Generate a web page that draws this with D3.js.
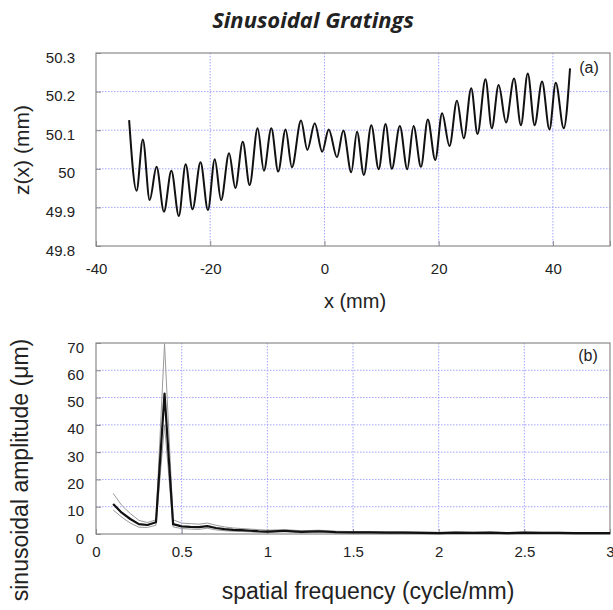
<!DOCTYPE html>
<html><head><meta charset="utf-8">
<script src="https://cdn.jsdelivr.net/npm/d3@7"></script>
<style>
html,body{margin:0;padding:0;background:#fff;}
svg{display:block;}
text{font-family:Arial,"Liberation Sans",sans-serif;fill:#222;}
</style></head>
<body>
<script>
// ---- Panel (a): surface profile, extrema ----
const profileX = [-34.2,-32.9,-31.8,-30.6,-29.4,-28.1,-26.8,-25.5,-24.3,-23.1,-21.7,-20.4,-19.2,-18.1,-16.7,-15.6,-14.3,-13.1,-11.7,-10.6,-9.3,-8.1,-6.8,-5.7,-4.1,-3.0,-1.7,-0.4,0.75,2.2,3.3,4.7,5.7,6.9,8.2,9.5,10.7,11.8,13.2,14.5,15.6,16.9,18.1,19.4,20.6,21.9,23.2,24.4,25.7,26.8,28.2,29.3,30.5,31.8,33.2,34.4,35.6,36.8,38.1,39.4,40.5,41.9,43.0];
const profileZ = [50.126,49.943,50.076,49.919,50.005,49.889,49.995,49.878,50.012,49.895,50.017,49.893,50.025,49.919,50.04,49.95,50.07,49.958,50.105,49.995,50.105,49.993,50.102,50.004,50.125,50.049,50.118,50.044,50.102,50.03,50.099,49.991,50.096,49.984,50.113,49.999,50.116,50.0,50.111,49.999,50.111,50.005,50.128,50.023,50.144,50.059,50.176,50.079,50.209,50.09,50.232,50.105,50.217,50.12,50.234,50.113,50.247,50.113,50.226,50.102,50.223,50.105,50.26];
const xTicksA = [-40,-20,0,20,40];
const zTicksA = [49.8,49.9,50,50.1,50.2,50.3];

// ---- Panel (b): amplitude spectrum ----
const freq = [0.1,0.15,0.2,0.25,0.3,0.35,0.4,0.45,0.5,0.55,0.6,0.65,0.7,0.75,0.8,0.85,0.9,0.95,1.0,1.1,1.2,1.3,1.4,1.5,1.6,1.7,1.8,1.9,2.0,2.1,2.2,2.3,2.4,2.5,2.6,2.7,2.8,2.9,3.0];
const ampMean  = [11.0,7.8,5.5,3.6,3.3,4.3,51.5,3.6,2.8,2.6,2.5,2.9,2.2,1.8,1.5,1.4,1.2,1.0,0.9,1.2,0.8,1.0,0.7,0.6,0.6,0.5,0.5,0.4,0.3,0.5,0.4,0.5,0.3,0.5,0.4,0.4,0.3,0.3,0.3];
const ampUpper = [14.9,10.5,7.5,5.0,4.2,5.2,69.8,5.2,4.0,3.8,3.6,4.0,3.2,2.6,2.2,2.0,1.8,1.6,1.4,1.6,1.2,1.4,1.0,0.9,0.9,0.8,0.8,0.7,0.6,0.7,0.6,0.7,0.5,0.7,0.6,0.6,0.5,0.5,0.5];
const ampLower = [8.8,6.2,4.0,2.5,2.4,3.2,40.0,2.6,2.0,1.8,1.7,2.1,1.5,1.2,1.0,0.9,0.8,0.6,0.5,0.8,0.4,0.6,0.4,0.3,0.3,0.2,0.2,0.2,0.1,0.2,0.2,0.2,0.1,0.2,0.2,0.2,0.1,0.1,0.1];
const fTicks = [0,0.5,1,1.5,2,2.5,3];
const aTicks = [0,10,20,30,40,50,60,70];
const fTickLabels = ["0","0.5","1","1.5","2","2.5","3"];

const W = 613, H = 610;
const svg = d3.select("body").append("svg").attr("width", W).attr("height", H);

svg.append("text").attr("x", 313).attr("y", 28).attr("text-anchor","middle")
  .style("font-family","'Open Sans',sans-serif").style("font-weight","bold").style("font-style","italic")
  .style("font-size","22px").text("Sinusoidal Gratings");

const gridColor = "#9a9aff", frameColor = "#8a8a8a";

function panel(opt){
  const {x, y, xTicks, yTicks, xFmt, yFmt} = opt;
  const g = svg.append("g");
  const [x0,x1] = x.range(), [y0,y1] = y.range(); // y0 bottom, y1 top
  g.selectAll(".gx").data(xTicks.slice(1, -1).filter(t=>x(t)<x1-1)).join("line")
    .attr("x1",d=>x(d)).attr("x2",d=>x(d)).attr("y1",y1).attr("y2",y0)
    .attr("stroke",gridColor).attr("stroke-width",0.9).attr("stroke-dasharray","1.5,1.5");
  g.selectAll(".gy").data(yTicks.slice(1, -1)).join("line")
    .attr("x1",x0).attr("x2",x1).attr("y1",d=>y(d)).attr("y2",d=>y(d))
    .attr("stroke",gridColor).attr("stroke-width",0.9).attr("stroke-dasharray","1.5,1.5");
  const ax = d3.axisBottom(x).tickValues(xTicks).tickSize(-5).tickFormat(xFmt).tickPadding(opt.xPad);
  const gx = g.append("g").attr("transform",`translate(0,${y0})`).call(ax);
  const ay = d3.axisLeft(y).tickValues(yTicks).tickSize(-5).tickFormat(yFmt).tickPadding(opt.yPad);
  const gy = g.append("g").attr("transform",`translate(${x0},0)`).call(ay);
  [gx,gy].forEach(a=>{
    a.select(".domain").remove();
    a.selectAll(".tick line").attr("stroke",frameColor);
    a.selectAll(".tick text").style("font-family","Arial,'Liberation Sans',sans-serif")
      .style("font-size",opt.tickFont).attr("fill","#222");
  });
  gy.selectAll(".tick text").attr("dy","0.6em");
  g.append("rect").attr("x",x0).attr("y",y1).attr("width",x1-x0).attr("height",y0-y1)
    .attr("fill","none").attr("stroke",frameColor).attr("stroke-width",1.2);
  return g;
}

// Panel (a)
const xA = d3.scaleLinear().domain([-40,50]).range([96,610]);
const yA = d3.scaleLinear().domain([49.8,50.3]).range([246,53]);
const gA = panel({x:xA, y:yA, xTicks:[...xTicksA,50], yTicks:zTicksA,
  xFmt:d=> d===50 ? "" : d, yFmt:d=>d3.format("")(d), tickFont:"15px", xPad:17, yPad:21});
const lineA = d3.line().x((d,i)=>xA(profileX[i])).y((d,i)=>yA(profileZ[i])).curve(d3.curveMonotoneX);
gA.append("path").attr("d", lineA(profileX)).attr("fill","none")
  .attr("stroke","#111").attr("stroke-width",2).attr("stroke-linejoin","round");
gA.append("text").attr("x",589).attr("y",73).attr("text-anchor","middle").style("font-size","16px").text("(a)");
svg.append("text").attr("x",355).attr("y",308).attr("text-anchor","middle").style("font-size","20px").text("x (mm)");
svg.append("text").attr("transform","translate(29,150) rotate(-90)").attr("text-anchor","middle").style("font-size","21px").text("z(x) (mm)");

// Panel (b)
const xB = d3.scaleLinear().domain([0,3]).range([96,610]);
const yB = d3.scaleLinear().domain([0,70]).range([534,343]);
const gB = panel({x:xB, y:yB, xTicks:fTicks, yTicks:aTicks,
  xFmt:(d,i)=>fTickLabels[i], yFmt:d=>d, tickFont:"15px", xPad:12, yPad:12});
const lineB = arr => d3.line().x((d,i)=>xB(freq[i])).y((d,i)=>yB(arr[i]))(freq);
gB.append("path").attr("d", lineB(ampUpper)).attr("fill","none").attr("stroke","#9a9a9a").attr("stroke-width",1);
gB.append("path").attr("d", lineB(ampLower)).attr("fill","none").attr("stroke","#9a9a9a").attr("stroke-width",1);
gB.append("path").attr("d", lineB(ampMean)).attr("fill","none").attr("stroke","#111").attr("stroke-width",2.2).attr("stroke-linejoin","round");
gB.append("text").attr("x",588).attr("y",361).attr("text-anchor","middle").style("font-size","16px").text("(b)");
svg.append("text").attr("x",368).attr("y",599).attr("text-anchor","middle").style("font-size","23px").text("spatial frequency (cycle/mm)");
svg.append("text").attr("transform","translate(28,470) rotate(-90)").attr("text-anchor","middle").style("font-size","23px").text("sinusoidal amplitude (\u03bcm)");
</script>
</body></html>
